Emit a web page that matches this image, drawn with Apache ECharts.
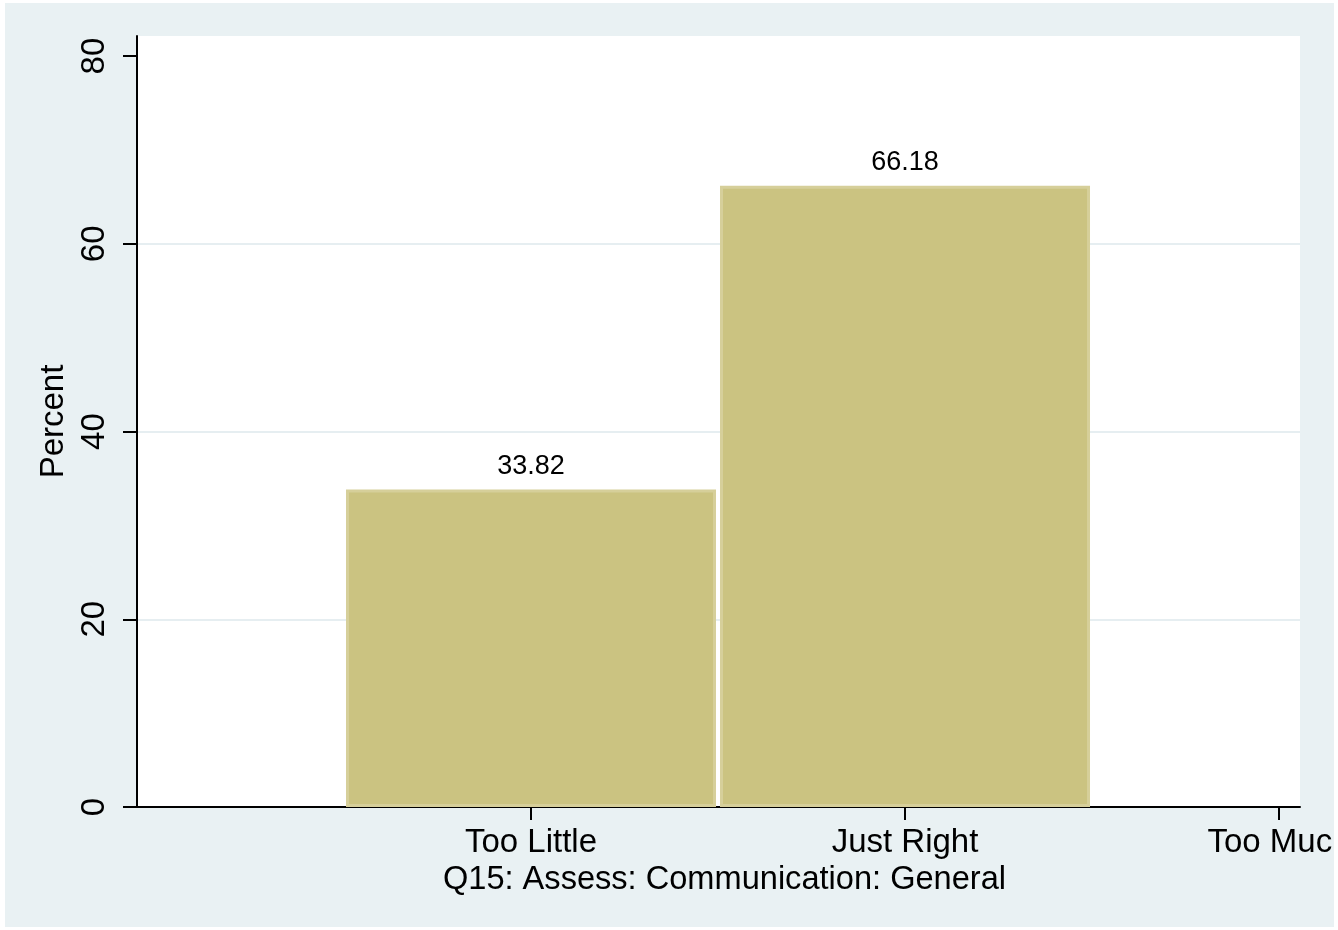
<!DOCTYPE html>
<html>
<head>
<meta charset="utf-8">
<script src="https://cdn.jsdelivr.net/npm/echarts@6/dist/echarts.min.js"></script>
<style>
html,body{margin:0;padding:0;background:#ffffff;width:1338px;height:930px;overflow:hidden;}
#chart{position:absolute;left:5px;top:3px;width:1329px;height:924px;}
</style>
</head>
<body>
<div id="chart"></div>
<script>
const categories = ['Too Little', 'Just Right', 'Too Much'];
const categoryCodes = [1, 2, 3];
const percents = [33.82, 66.18, 0];
const yTicks = [0, 20, 40, 60, 80];
const xTitle = 'Q15: Assess: Communication: General';
const yTitle = 'Percent';

const FONT = '"Liberation Sans", Arial, Helvetica, sans-serif';
const barData = [];
categoryCodes.forEach((c, i) => { if (percents[i] > 0) barData.push([c, percents[i]]); });

const chart = echarts.init(document.getElementById('chart'), null, {renderer: 'canvas'});
chart.setOption({
  backgroundColor: '#E9F1F3',
  animation: false,
  textStyle: {fontFamily: FONT},
  grid: {left: 132, right: 34, top: 33, bottom: 120, show: true, backgroundColor: '#ffffff', borderWidth: 0,
    containLabel: false, outerBoundsMode: 'none'},
  xAxis: {
    type: 'value',
    min: -0.0535,
    max: 3.0561,
    name: xTitle,
    nameLocation: 'middle',
    nameGap: 56,
    nameTextStyle: {fontSize: 32.6, color: '#000', fontFamily: FONT, padding: [0, 0, 0, 12]},
    axisLine: {show: true, onZero: false, lineStyle: {color: '#000', width: 2}},
    axisTick: {show: true, length: 13, lineStyle: {color: '#000', width: 2}, customValues: categoryCodes},
    axisLabel: {
      fontSize: 33, color: '#000', margin: 19, fontFamily: FONT,
      customValues: categoryCodes,
      formatter: v => categories[categoryCodes.indexOf(Math.round(v))] || ''
    },
    splitLine: {show: false}
  },
  yAxis: {
    type: 'value',
    min: yTicks[0],
    max: 82.14,
    interval: 20,
    name: yTitle,
    nameLocation: 'middle',
    nameGap: 64,
    nameRotate: 90,
    nameTextStyle: {fontSize: 33, color: '#000', fontFamily: FONT},
    axisLine: {show: true, onZero: false, lineStyle: {color: '#000', width: 2}},
    axisTick: {show: true, length: 14, lineStyle: {color: '#000', width: 2}, customValues: yTicks},
    axisLabel: {fontSize: 33, color: '#000', rotate: 90, margin: 26, fontFamily: FONT, customValues: yTicks},
    splitLine: {show: true, lineStyle: {color: ['transparent', '#E6EEF1', '#E6EEF1', '#E6EEF1', 'transparent', 'transparent'], width: 2}}
  },
  series: [{
    type: 'bar',
    data: barData,
    barWidth: 370,
    itemStyle: {color: '#CBC381', borderColor: '#D6CF9A', borderWidth: 3},
    label: {show: true, position: 'top', distance: 10, fontSize: 27, color: '#000', fontFamily: FONT,
      formatter: p => p.value[1].toFixed(2)}
  }]
});
</script>
</body>
</html>
